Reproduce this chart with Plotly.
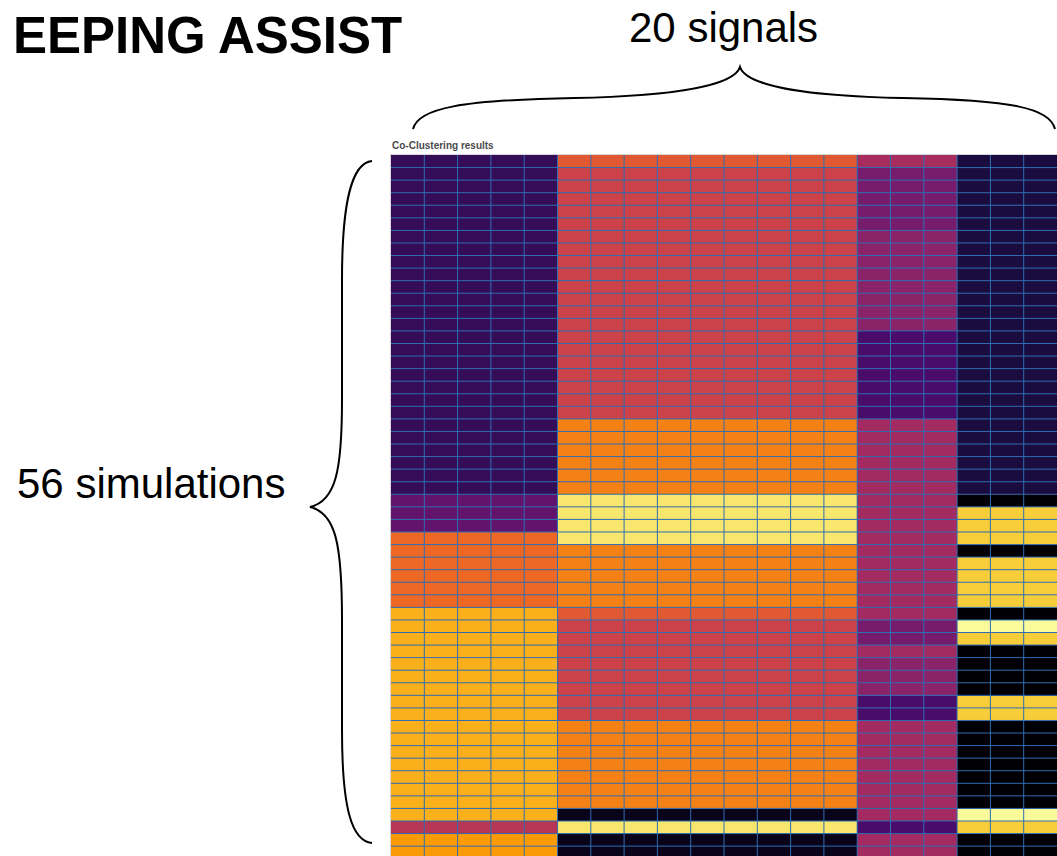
import numpy as np
import plotly.graph_objects as go

W, H = 1057, 856

# Signals (columns) belong to four column clusters
signal_cluster_sizes = [5, 9, 3, 3]

# Block values down the 56 simulations for each column cluster,
# written as run lengths: value of the block and number of rows it spans
cluster1_values = [0.17, 0.28, 0.665, 0.82, 0.49, 0.775]
cluster1_rows = [27, 3, 6, 17, 1, 2]

cluster2_values = [0.62, 0.547, 0.72, 0.94, 0.72, 0.62, 0.547, 0.72, 0.04, 0.94, 0.04]
cluster2_rows = [1, 20, 6, 4, 5, 1, 8, 7, 1, 1, 2]

cluster3_values = [0.45, 0.33, 0.38, 0.22, 0.44, 0.33, 0.44, 0.38, 0.22, 0.44, 0.22, 0.44]
cluster3_rows = [1, 5, 8, 7, 16, 2, 1, 3, 2, 8, 1, 2]

cluster4_values = [0.11, 0.0, 0.88, 0.0, 0.88, 0.0, 0.99, 0.88, 0.0, 0.88, 0.0, 0.99, 0.88, 0.0]
cluster4_rows = [27, 1, 3, 1, 4, 1, 1, 1, 4, 2, 7, 1, 1, 2]

n_signals = sum(signal_cluster_sizes)
n_simulations = 56


def expand(values, rows):
    out = []
    for v, n in zip(values, rows):
        out.extend([v] * n)
    return out


columns_by_cluster = [
    expand(cluster1_values, cluster1_rows),
    expand(cluster2_values, cluster2_rows),
    expand(cluster3_values, cluster3_rows),
    expand(cluster4_values, cluster4_rows),
]

z = np.zeros((n_simulations, n_signals))
col = 0
for size, colvals in zip(signal_cluster_sizes, columns_by_cluster):
    for _ in range(size):
        z[:, col] = colvals
        col += 1


def px(x):
    return x / W


def py(y):
    return 1 - y / H


# heatmap placement (pixels)
left, top = 391, 155
row_h = 12.566
visible_rows = (H - top) / row_h

fig = go.Figure(
    go.Heatmap(
        z=z,
        x=list(range(n_signals)),
        y=list(range(n_simulations)),
        colorscale="Inferno",
        zmin=0,
        zmax=1,
        showscale=False,
    )
)

fig.update_xaxes(
    domain=[px(left), 1.0],
    range=[-0.5, n_signals - 0.5],
    showticklabels=False,
    ticks="",
    showgrid=False,
    zeroline=False,
    showline=True,
    mirror=True,
    linecolor="#d6d6d6",
    linewidth=1,
)
fig.update_yaxes(
    domain=[0.0, py(top)],
    range=[-0.5 + visible_rows, -0.5],
    showticklabels=False,
    ticks="",
    showgrid=False,
    zeroline=False,
    showline=True,
    mirror=True,
    linecolor="#d6d6d6",
    linewidth=1,
)

grid_color = "#2f6db2"
shapes = []
# cell borders
for i in range(1, n_signals):
    shapes.append(dict(type="line", xref="x", yref="paper", x0=i - 0.5, x1=i - 0.5,
                       y0=0, y1=py(top), line=dict(color=grid_color, width=1)))
for j in range(1, n_simulations):
    shapes.append(dict(type="line", xref="paper", yref="y", x0=px(left), x1=1,
                       y0=j - 0.5, y1=j - 0.5, line=dict(color=grid_color, width=1)))

# curly braces around the matrix
h_brace = (
    f"M {px(413)},{py(129)} "
    f"C {px(418)},{py(108)} {px(462)},{py(100)} {px(575)},{py(98)} "
    f"C {px(672)},{py(96)} {px(734)},{py(86)} {px(740)},{py(67)} "
    f"C {px(746)},{py(86)} {px(808)},{py(96)} {px(903)},{py(98)} "
    f"C {px(1012)},{py(100)} {px(1050)},{py(108)} {px(1055)},{py(129)}"
)
v_brace = (
    f"M {px(372)},{py(161)} "
    f"C {px(352)},{py(163)} {px(342)},{py(200)} {px(342)},{py(280)} "
    f"L {px(342)},{py(400)} "
    f"C {px(342)},{py(470)} {px(336)},{py(501)} {px(310)},{py(507)} "
    f"C {px(336)},{py(513)} {px(342)},{py(545)} {px(342)},{py(620)} "
    f"L {px(342)},{py(730)} "
    f"C {px(342)},{py(810)} {px(352)},{py(841)} {px(372)},{py(843)}"
)
shapes += [
    dict(type="path", path=h_brace, xref="paper", yref="paper",
         line=dict(color="black", width=2)),
    dict(type="path", path=v_brace, xref="paper", yref="paper",
         line=dict(color="black", width=2)),
]

annotations = [
    dict(text="<b>EEPING ASSIST</b>", x=px(11), y=py(36), xanchor="left", yanchor="middle",
         font=dict(family="Liberation Sans, Arial", size=51, color="black")),
    dict(text="20 signals", x=px(723), y=py(28), xanchor="center", yanchor="middle",
         font=dict(family="Liberation Sans, Arial", size=42, color="black")),
    dict(text="56 simulations", x=px(151), y=py(483), xanchor="center", yanchor="middle",
         font=dict(family="Liberation Sans, Arial", size=42, color="black")),
    dict(text="<b>Co-Clustering results</b>", x=px(390), y=py(146), xanchor="left", yanchor="middle",
         font=dict(family="Liberation Sans, Arial", size=10, color="#4a4a4a")),
]
for a in annotations:
    a.update(xref="paper", yref="paper", showarrow=False)

fig.update_layout(
    width=W,
    height=H,
    margin=dict(l=0, r=0, t=0, b=0),
    paper_bgcolor="white",
    plot_bgcolor="white",
    shapes=shapes,
    annotations=annotations,
    showlegend=False,
)

fig.write_html("out.html")
